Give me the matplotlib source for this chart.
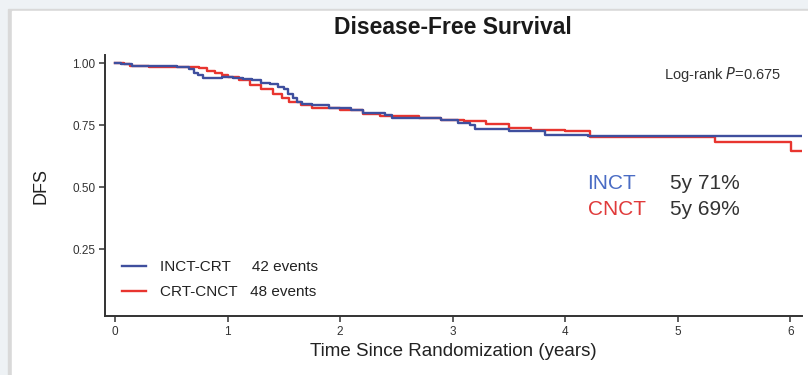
import matplotlib.pyplot as plt
from matplotlib.patches import Rectangle

plt.rcParams["font.family"] = ["Liberation Sans", "DejaVu Sans"]

# Kaplan-Meier steps (years, survival)
inct_t = [0, 0.05, 0.15, 0.3, 0.55, 0.66, 0.70, 0.74, 0.78, 0.95, 1.05, 1.14, 1.22,
          1.30, 1.38, 1.45, 1.50, 1.54, 1.58, 1.62, 1.66, 1.75, 1.90, 2.10, 2.20,
          2.40, 2.46, 2.90, 3.05, 3.15, 3.20, 3.50, 3.82, 4.20, 6.10]
inct_s = [1.0, 0.995, 0.99, 0.988, 0.985, 0.975, 0.96, 0.95, 0.94, 0.945, 0.94, 0.935,
          0.93, 0.92, 0.915, 0.905, 0.895, 0.875, 0.86, 0.845, 0.835, 0.83, 0.82, 0.81,
          0.80, 0.79, 0.78, 0.77, 0.76, 0.75, 0.735, 0.725, 0.71, 0.705, 0.705]

cnct_t = [0, 0.08, 0.13, 0.3, 0.62, 0.75, 0.82, 0.89, 0.95, 1.00, 1.10, 1.20, 1.30,
          1.40, 1.48, 1.55, 1.65, 1.75, 2.00, 2.20, 2.35, 2.70, 2.90, 3.10, 3.30,
          3.50, 3.70, 4.00, 4.22, 5.33, 6.01, 6.10]
cnct_s = [1.0, 0.995, 0.99, 0.985, 0.985, 0.98, 0.97, 0.96, 0.95, 0.945, 0.93, 0.91,
          0.895, 0.875, 0.86, 0.845, 0.83, 0.82, 0.81, 0.795, 0.785, 0.78, 0.77, 0.765,
          0.755, 0.74, 0.73, 0.725, 0.70, 0.68, 0.645, 0.645]

series = ["INCT-CRT", "CRT-CNCT"]
events = [42, 48]
short = ["INCT", "CNCT"]
five_year = ["5y 71%", "5y 69%"]
colors = ["#3f4f9e", "#e8352f"]
label_colors = ["#4a6cc4", "#e03a3a"]
x_ticks = [0, 1, 2, 3, 4, 5, 6]
y_ticks = [0.25, 0.50, 0.75, 1.00]

fig = plt.figure(figsize=(8.08, 3.75), dpi=100)
# frame of the screenshot
fig.patches.append(Rectangle((0, 0), 1, 1, transform=fig.transFigure,
                             color="#eef2f5", zorder=-3))
fig.patches.append(Rectangle((0.0105, 0), 0.99, 0.975, transform=fig.transFigure,
                             color="#d9d9d9", zorder=-2))
fig.patches.append(Rectangle((0.0145, 0), 0.99, 0.972, transform=fig.transFigure,
                             color="white", zorder=-1))

ax = fig.add_axes([0.130, 0.157, 0.863, 0.696])
ax.patch.set_alpha(0)

ax.plot(inct_t, inct_s, drawstyle="steps-post", color=colors[0], lw=1.7,
        label=f"{series[0]}     {events[0]} events", zorder=3)
ax.plot(cnct_t, cnct_s, drawstyle="steps-post", color=colors[1], lw=1.7,
        label=f"{series[1]}   {events[1]} events", zorder=2)

ax.set_xlim(-0.089, 6.107)
ax.set_ylim(-0.02, 1.032)
ax.set_xticks(x_ticks)
ax.set_yticks(y_ticks)
ax.set_yticklabels([f"{v:.2f}" for v in y_ticks])
for s in ["top", "right"]:
    ax.spines[s].set_visible(False)
for s in ["left", "bottom"]:
    ax.spines[s].set_color("#333333")
    ax.spines[s].set_linewidth(1.4)
ax.tick_params(direction="out", length=4, width=1.1, color="#333333",
               labelsize=8.5, labelcolor="#333333", pad=3)

ax.set_xlabel("Time Since Randomization (years)", fontsize=13.5, color="#222222",
              labelpad=4)
ax.set_ylabel("DFS", fontsize=13, color="#222222", labelpad=16)
fig.text(0.561, 0.928, "Disease-Free Survival", ha="center", va="center",
         fontsize=16.5, fontweight="bold", color="#1a1a1a")

ax.text(0.970, 0.925, "Log-rank $\\it{P}$=0.675", transform=ax.transAxes,
        ha="right", va="center", fontsize=10.5, color="#333333")
for i in range(2):
    y = 0.508 - i * 0.1
    ax.text(0.692, y, short[i], transform=ax.transAxes, ha="left", va="center",
            fontsize=15, color=label_colors[i])
    ax.text(0.810, y, five_year[i], transform=ax.transAxes, ha="left",
            va="center", fontsize=15, color="#333333")

leg = ax.legend(loc="lower left", bbox_to_anchor=(0.0, 0.0), frameon=False,
                fontsize=11, handlelength=1.6, handletextpad=0.9,
                labelspacing=0.75, borderaxespad=0.7)
for t in leg.get_texts():
    t.set_color("#222222")

fig.savefig("out.png", dpi=100)
